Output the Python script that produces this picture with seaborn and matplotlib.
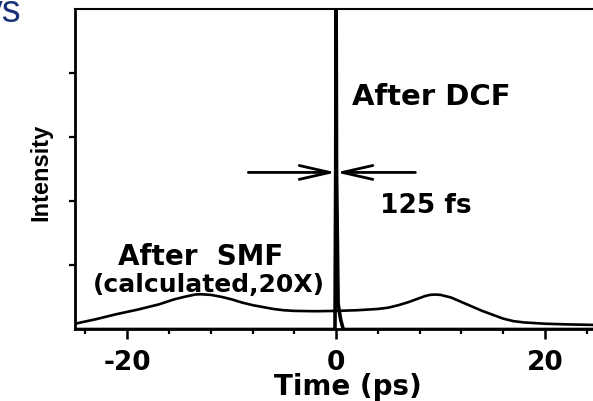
import matplotlib
matplotlib.use("Agg")
import matplotlib.pyplot as plt
from matplotlib import font_manager
from matplotlib.ticker import FixedLocator, FixedFormatter, MultipleLocator
import pandas as pd
import seaborn as sns

# Pulse after the standard fibre (calculated, scaled 20x)
time_smf = [-25, -23, -21, -19, -17, -15.5, -14.5, -13.5, -13, -12, -11, -10, -9, -8,
            -7, -6, -5, -4, -2, 0, 2, 4, 5, 6, 7, 8, 8.5, 9, 9.5, 10, 11, 12, 13,
            14, 15, 16, 17, 18, 20, 22, 25]
intensity_smf = [0.09, 0.16, 0.24, 0.31, 0.39, 0.47, 0.51, 0.545, 0.55, 0.54, 0.51,
                 0.47, 0.42, 0.38, 0.35, 0.32, 0.30, 0.29, 0.285, 0.29, 0.30, 0.32,
                 0.34, 0.38, 0.43, 0.49, 0.52, 0.54, 0.545, 0.54, 0.50, 0.43, 0.36,
                 0.29, 0.23, 0.17, 0.13, 0.11, 0.09, 0.08, 0.07]

# Compressed pulse after the dispersion-compensating fibre
time_dcf = [-25, -0.1, -0.03, 0.0, 0.05, 0.2, 0.45, 0.7, 25]
intensity_dcf = [0, 0, 2.5, 6.0, 2.5, 0.4, 0.15, 0, 0]

x_ticks = [-20, 0, 20]
x_tick_labels = ["-20", "0", "20"]
y_ticks = [1, 2, 3, 4]

fwhm_y = 2.45
fwhm_left, fwhm_right = -8.4, 7.6

sns.set_style("ticks")
plt.rcParams["font.family"] = ["DejaVu Sans"]
plt.rcParams["axes.unicode_minus"] = False
plt.rcParams["text.color"] = "black"
plt.rcParams["axes.labelcolor"] = "black"
plt.rcParams["xtick.color"] = "black"
plt.rcParams["ytick.color"] = "black"

names = {f.name for f in font_manager.fontManager.ttflist}
sans = "Liberation Sans" if "Liberation Sans" in names else "DejaVu Sans"

fig = plt.figure(figsize=(5.93, 4.02), dpi=100)
ax = fig.add_axes([0.1265, 0.1779, 0.8803, 0.7973])

smf = pd.DataFrame({"time": time_smf, "intensity": intensity_smf})
dcf = pd.DataFrame({"time": time_dcf, "intensity": intensity_dcf})
sns.lineplot(data=smf, x="time", y="intensity", ax=ax, color="black", lw=1.9,
             estimator=None, sort=False)
sns.lineplot(data=dcf, x="time", y="intensity", ax=ax, color="black", lw=2.6,
             estimator=None, sort=False)

ax.set_xlim(-25, 25)
ax.set_ylim(0, 5)

ax.xaxis.set_major_locator(FixedLocator(x_ticks))
ax.xaxis.set_major_formatter(FixedFormatter(x_tick_labels))
ax.xaxis.set_minor_locator(MultipleLocator(4))
ax.yaxis.set_major_locator(FixedLocator(y_ticks))
ax.set_yticklabels([])

ax.tick_params(axis="x", which="major", direction="out", length=7, width=1.8,
               pad=7, labelsize=19, color="black", labelcolor="black")
ax.tick_params(axis="x", which="minor", direction="out", length=3.5, width=1.6,
               color="black")
ax.tick_params(axis="y", which="major", direction="out", length=4, width=1.6,
               color="black")
for lab in ax.get_xticklabels():
    lab.set_fontweight("bold")

for side in ["left", "bottom", "top"]:
    ax.spines[side].set_visible(True)
    ax.spines[side].set_color("black")
ax.spines["left"].set_linewidth(2.0)
ax.spines["bottom"].set_linewidth(2.0)
ax.spines["top"].set_linewidth(1.5)
ax.spines["right"].set_visible(False)

ax.set_xlabel("Time (ps)", fontsize=20, fontweight="bold", color="black")
ax.xaxis.set_label_coords(0.523, -0.134)
ax.set_ylabel("Intensity", fontsize=17, fontweight="bold", family=sans,
              color="black")
ax.yaxis.set_label_coords(-0.043, 0.4945)

arrow = dict(arrowstyle="->,head_length=1.1,head_width=0.25", lw=2.0,
             color="black", shrinkA=0, shrinkB=0, mutation_scale=20)
ax.annotate("", xy=(0, fwhm_y), xytext=(fwhm_left, fwhm_y), arrowprops=arrow)
ax.annotate("", xy=(0, fwhm_y), xytext=(fwhm_right, fwhm_y), arrowprops=arrow)

ax.text(1.5, 3.51, "After DCF", fontsize=21, fontweight="bold",
        ha="left", va="baseline", color="black")
ax.text(4.2, 1.83, "125 fs", fontsize=19, fontweight="bold",
        ha="left", va="baseline", color="black")
ax.text(-20.9, 1.02, "After  SMF", fontsize=20, fontweight="bold",
        ha="left", va="baseline", color="black")
ax.text(-23.3, 0.60, "(calculated,20X)", fontsize=18, fontweight="bold",
        ha="left", va="baseline", color="black")

fig.text(22 / 593, 1 - 22 / 402, "ys", fontsize=27, color="#1b3276",
         family=sans, ha="right", va="baseline")

fig.savefig("out.png", dpi=100, facecolor="white")
